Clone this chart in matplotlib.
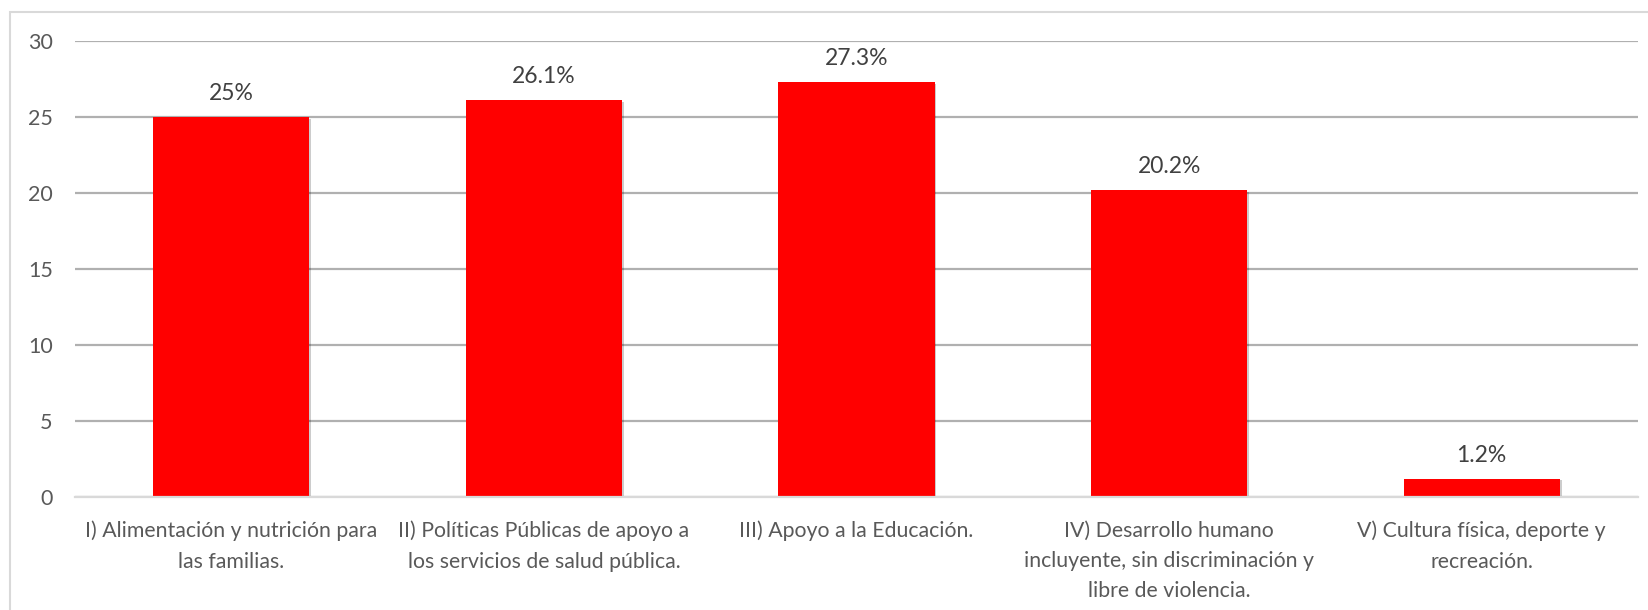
"""Bar chart: porcentaje por eje."""
import matplotlib
matplotlib.use("Agg")
import matplotlib.pyplot as plt
import matplotlib.patheffects as pe
from matplotlib.patches import Rectangle

categories = [
    "I) Alimentación y nutrición para\nlas familias.",
    "II) Políticas Públicas de apoyo a\nlos servicios de salud pública.",
    "III) Apoyo a la Educación.",
    "IV) Desarrollo humano\nincluyente, sin discriminación y\nlibre de violencia.",
    "V) Cultura física, deporte y\nrecreación.",
]
values = [25, 26.1, 27.3, 20.2, 1.2]
value_labels = ["25%", "26.1%", "27.3%", "20.2%", "1.2%"]
yticks = [0, 5, 10, 15, 20, 25, 30]

plt.rcParams["font.family"] = ["Lato", "DejaVu Sans"]

W, H = 1648, 610
fig = plt.figure(figsize=(W / 100, H / 100), dpi=100)

# outer chart border (clipped at right and bottom like the source)
fig.patches.append(Rectangle((10 / W, -0.1), 1.2, 1 - 12 / H + 0.1,
                             transform=fig.transFigure, fill=False,
                             edgecolor="#d9d9d9", linewidth=1.5))

ax = fig.add_axes([75 / W, 1 - 497 / H, (1638 - 75) / W, (497 - 41) / H])

x = range(len(values))
bars = ax.bar(x, values, width=0.5, color="#ff0000", zorder=3)
for b in bars:
    b.set_path_effects([pe.SimplePatchShadow(offset=(1.2, -1.2), shadow_rgbFace="#000000", alpha=0.2),
                        pe.Normal()])

for xi, v, lab in zip(x, values, value_labels):
    ax.annotate(lab, (xi, v), xytext=(0, 17), textcoords="offset points",
                ha="center", va="center", fontsize=16.5, color="#404040")

ax.set_xlim(-0.5, len(values) - 0.5)
ax.set_ylim(0, 30)
ax.set_yticks(yticks)
ax.set_xticks(list(x))
ax.set_xticklabels(categories, fontsize=15.3, color="#595959", linespacing=1.65, va="top")
ax.tick_params(axis="y", length=0, pad=16, labelsize=15.5, labelcolor="#595959")
ax.tick_params(axis="x", length=0, pad=17)
ax.grid(axis="y", color="#b0b0b0", linewidth=1.6, zorder=0)
for s in ["top", "right", "left"]:
    ax.spines[s].set_visible(False)
ax.spines["bottom"].set_color("#d9d9d9")
ax.spines["bottom"].set_linewidth(1.6)
ax.spines["bottom"].set_zorder(4)

fig.savefig("out.png", dpi=100)
